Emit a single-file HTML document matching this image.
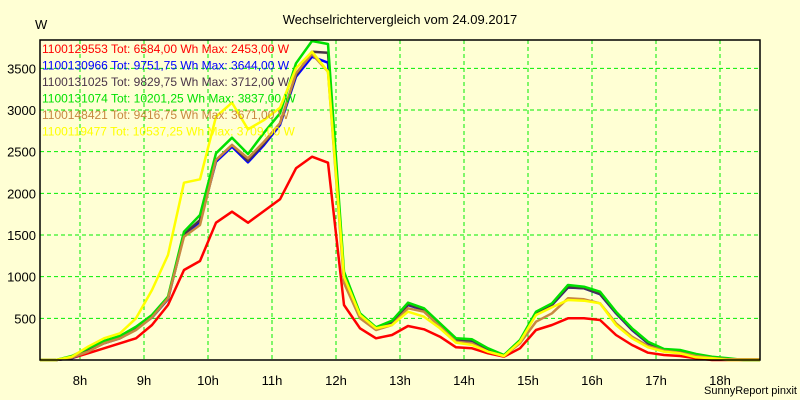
<!DOCTYPE html>
<html><head><meta charset="utf-8"><style>
body{margin:0;background:#ffffd4;}
svg{display:block;font-family:"Liberation Sans",sans-serif;}
</style></head><body>
<svg id="chart" width="800" height="400" xmlns="http://www.w3.org/2000/svg">
<rect width="800" height="400" fill="#ffffd4"/>
<text x="400" y="24" font-size="13" text-anchor="middle">Wechselrichtervergleich vom 24.09.2017</text>
<text x="35" y="29" font-size="13">W</text>
<g id="grid"></g>
<g id="series"></g>
<rect x="40" y="40" width="720" height="320" fill="none" stroke="#000" stroke-width="1.5"/>
<g id="ylabels"></g>
<g id="xlabels"></g>
<g id="legend"></g>
<text x="797" y="394" font-size="11" text-anchor="end">SunnyReport pinxit</text>
</svg>
<script>
const startHour = 7.375;
const stepHour = 0.25;
const yTicks = [500,1000,1500,2000,2500,3000,3500];
const xTicks = [8,9,10,11,12,13,14,15,16,17,18];
const seriesNames = ["1100129553 Tot: 6584,00 Wh Max: 2453,00 W","1100130966 Tot: 9751,75 Wh Max: 3644,00 W","1100131025 Tot: 9829,75 Wh Max: 3712,00 W","1100131074 Tot: 10201,25 Wh Max: 3837,00 W","1100148421 Tot: 9416,75 Wh Max: 3671,00 W","1100119477 Tot: 10537,25 Wh Max: 3709,00 W"];
const seriesColors = ["#ff0000","#0000ff","#4a3448","#00e000","#c88840","#ffff00"];
const red = [0,0,24,80,140,200,260,420,660,1080,1188,1648,1780,1648,1788,1928,2300,2440,2368,660,380,260,300,408,368,280,152,140,80,40,140,360,420,500,500,480,300,180,88,60,48,20,0,0,0,0];
const blue = [0,0,20,110,200,260,370,510,730,1500,1660,2380,2560,2372,2580,2820,3400,3640,3568,984,530,370,450,660,600,420,240,230,120,50,220,560,660,870,860,790,560,360,200,120,110,60,30,10,0,0];
const dark = [0,0,24,115,205,265,375,515,735,1510,1680,2400,2580,2392,2600,2840,3420,3700,3688,1000,535,375,455,665,605,425,245,235,125,52,225,565,665,872,862,792,565,365,205,122,112,62,32,12,0,0];
const green = [0,0,48,140,228,288,400,540,760,1540,1740,2480,2668,2472,2728,2960,3560,3828,3792,1060,560,392,472,688,620,440,260,248,140,60,240,580,680,900,880,820,580,380,220,132,120,72,40,20,0,0];
const brown = [0,0,30,100,200,260,360,512,740,1480,1620,2400,2580,2420,2620,2840,3440,3672,3460,924,500,360,420,620,580,400,220,200,100,48,200,460,560,740,728,680,440,280,168,112,88,48,24,8,8,8];
const yellow = [0,0,40,160,260,320,500,840,1260,2128,2168,2920,3088,2768,2880,3028,3500,3700,3460,1000,540,380,420,580,520,380,208,180,100,48,220,540,632,720,712,680,420,260,152,100,80,32,20,0,0,0];
const allSeries = [red, blue, dark, green, brown, yellow];

const NS="http://www.w3.org/2000/svg";
const xScale = h => 40 + (h - 7.375) * 64;
const yScale = v => 360 - v * 250 / 3000;
function mk(tag, attrs, parent){const e=document.createElementNS(NS,tag);for(const k in attrs)e.setAttribute(k,attrs[k]);parent.appendChild(e);return e;}
const grid=document.getElementById('grid');
yTicks.forEach(v=>{
  const l=mk('line',{x1:40,x2:760,y1:yScale(v),y2:yScale(v),stroke:'#00ee00','stroke-dasharray':'4,3'},grid);
  
  
  const t=mk('text',{x:36,y:yScale(v)+5,'font-size':13,'text-anchor':'end'},document.getElementById('ylabels'));
  t.textContent=v;
  
  
});
xTicks.forEach(h=>{
  const l=mk('line',{x1:xScale(h),x2:xScale(h),y1:40,y2:360,stroke:'#00ee00','stroke-dasharray':'4,3'},grid);
  
  
  const t=mk('text',{x:xScale(h),y:385,'font-size':13,'text-anchor':'middle'},document.getElementById('xlabels'));
  t.textContent=h+'h';
  
  
});
const sg=document.getElementById('series');
allSeries.forEach((arr,i)=>{
  const pts=arr.map((v,k)=>xScale(startHour+k*stepHour).toFixed(1)+','+yScale(v).toFixed(1)).join(' ');
  const p=mk('polyline',{points:pts,fill:'none',stroke:seriesColors[i],'stroke-width':2.5,'stroke-linejoin':'round'},sg);
  
  
});
const lg=document.getElementById('legend');
seriesNames.forEach((n,i)=>{
  const t=mk('text',{x:42,y:53+i*16.5,'font-size':12,fill:seriesColors[i]},lg);
  t.textContent=n;
  
  
});
</script>
</body></html>
